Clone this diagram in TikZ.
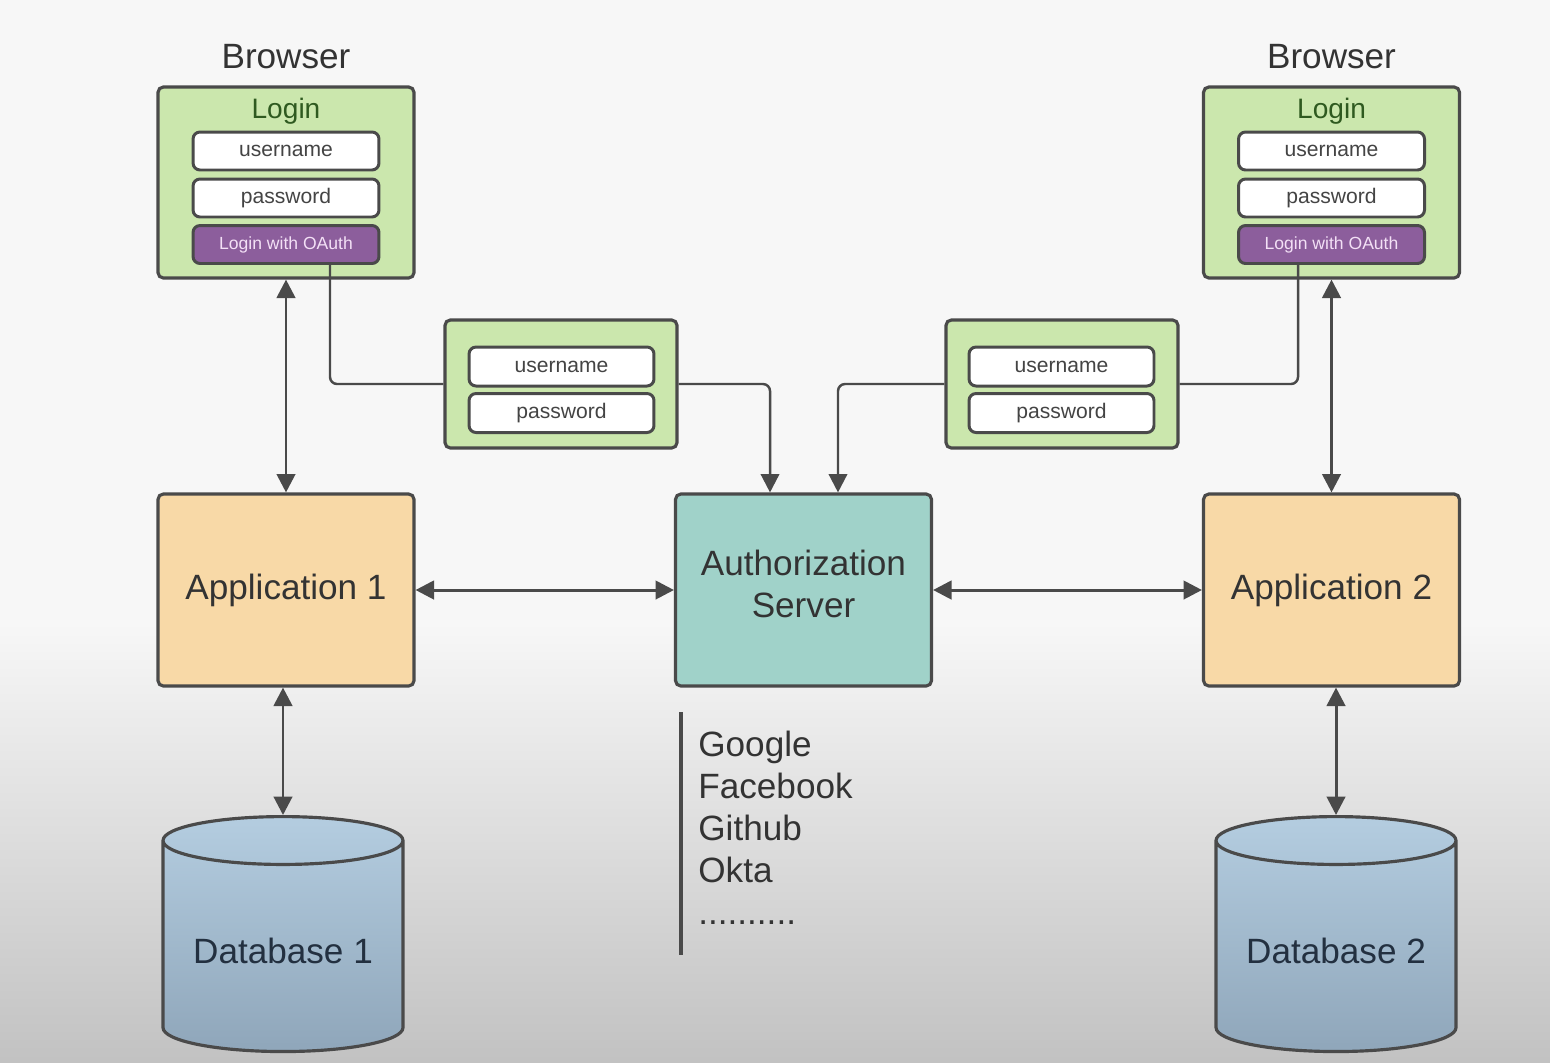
\documentclass[tikz,border=0pt]{standalone}
\usepackage{fontspec}
\setmainfont{Liberation Sans}
\usetikzlibrary{arrows.meta,shapes.geometric}

\definecolor{edge}{HTML}{4A4A4A}
\definecolor{loginbg}{HTML}{CBE7AD}
\definecolor{logintxt}{HTML}{2F5A20}
\definecolor{fieldtxt}{HTML}{444444}
\definecolor{oauth}{HTML}{8C5E9C}
\definecolor{oauthtxt}{HTML}{F3E0F6}
\definecolor{appbg}{HTML}{F8D9A7}
\definecolor{authbg}{HTML}{A0D2C9}
\definecolor{dbtop}{HTML}{B4CDE0}
\definecolor{dbbottom}{HTML}{8FA6BA}
\definecolor{textdark}{HTML}{333333}
\definecolor{dbtxt}{HTML}{233040}

\newcommand{\moredots}{..........}

\tikzset{
  panel/.style={draw=edge, line width=1.8pt, rounded corners=3pt, fill=loginbg},
  field/.style={draw=edge, line width=1.7pt, rounded corners=4pt, fill=white,
    minimum width=3.72cm, minimum height=0.76cm, inner sep=0pt,
    font=\fontsize{12}{14}\selectfont, text=fieldtxt},
  oauthbtn/.style={field, fill=oauth, text=oauthtxt, font=\fontsize{10}{12}\selectfont},
  bigbox/.style={draw=edge, line width=1.8pt, rounded corners=3pt,
    minimum width=5.12cm, minimum height=3.84cm, align=center,
    font=\fontsize{20}{24}\selectfont, text=textdark},
  dbnode/.style={cylinder, shape border rotate=90, aspect=0.25, draw=edge,
    line width=1.8pt, top color=dbtop, bottom color=dbbottom,
    minimum width=4.8cm, minimum height=4.7cm, anchor=north,
    font=\fontsize{20}{24}\selectfont, text=dbtxt},
  link/.style={draw=edge, line width=1.7pt,
    {Triangle[length=10.5pt,width=10.5pt]}-{Triangle[length=10.5pt,width=10.5pt]}},
  route/.style={draw=edge, line width=1.4pt, rounded corners=4pt},
  listitem/.style={anchor=base west, inner sep=0pt,
    font=\fontsize{20}{24}\selectfont, text=textdark}
}

\begin{document}
\begin{tikzpicture}[x=0.02cm, y=-0.02cm]
    % background of the frame
    \useasboundingbox (0,0) rectangle (1550,1062);
    \fill[white!97!black] (0,0) rectangle (1550,620);
    \shade[top color=white!97!black, bottom color=white!76!black] (0,620) rectangle (1550,1062);

    % browsers with their login forms
    \node[font=\fontsize{20}{24}\selectfont, text=textdark] (browser1) at (286,57) {Browser};
    \node[font=\fontsize{20}{24}\selectfont, text=textdark] (browser2) at (1331.5,57) {Browser};

    \node[panel, minimum width=5.12cm, minimum height=3.82cm] (login1) at (286,182.5) {};
    \node[font=\fontsize{16}{18}\selectfont, text=logintxt] (title1) at (286,111) {Login};
    \node[field] (user1) at (286,151) {username};
    \node[field] (pass1) at (286,198) {password};
    \node[oauthbtn] (oauth1) at (286,244.5) {Login with OAuth};

    \node[panel, minimum width=5.12cm, minimum height=3.82cm] (login2) at (1331.5,182.5) {};
    \node[font=\fontsize{16}{18}\selectfont, text=logintxt] (title2) at (1331.5,111) {Login};
    \node[field] (user2) at (1331.5,151) {username};
    \node[field] (pass2) at (1331.5,198) {password};
    \node[oauthbtn] (oauth2) at (1331.5,244.5) {Login with OAuth};

    % credentials sent to the authorization server
    \node[panel, minimum width=4.64cm, minimum height=2.56cm] (cred1) at (561,384) {};
    \node[field, minimum width=3.7cm, minimum height=0.78cm] (cuser1) at (561.5,366.5) {username};
    \node[field, minimum width=3.7cm, minimum height=0.78cm] (cpass1) at (561.5,413) {password};

    \node[panel, minimum width=4.64cm, minimum height=2.56cm] (cred2) at (1062,384) {};
    \node[field, minimum width=3.7cm, minimum height=0.78cm] (cuser2) at (1061.5,366.5) {username};
    \node[field, minimum width=3.7cm, minimum height=0.78cm] (cpass2) at (1061.5,413) {password};

    % applications and the server
    \node[bigbox, fill=appbg] (app1) at (286,590) {Application 1};
    \node[bigbox, fill=authbg] (auth) at (803.5,590) {Authorization\\Server\\[-0.6cm]};
    \node[bigbox, fill=appbg] (app2) at (1331.5,590) {Application 2};

    % databases
    \node[dbnode] (db1) at (283,815) {Database 1};
    \node[dbnode] (db2) at (1336,815) {Database 2};

    % identity providers
    \foreach \idp [count=\i] in {Google,Facebook,Github,Okta,\moredots}
        \node[listitem] (idp\i) at (698,714+42*\i) {\idp};
    \draw[edge, line width=2.2pt] (681,712) -- (681,955);

    % two way links
    \draw[link] (login1.south) -- (app1.north);
    \draw[link] (login2.south) -- (app2.north);
    \draw[link] (app1.east) -- (auth.west);
    \draw[link] (auth.east) -- (app2.west);
    \draw[link] (app1.south -| db1.north) -- (db1.north);
    \draw[link] (app2.south -| db2.north) -- (db2.north);

    % oauth routes
    \draw[route] ([xshift=0.88cm]oauth1.south) |- (cred1.west);
    \draw[route, -{Triangle[length=10.5pt,width=10.5pt]}] (cred1.east) -| ([xshift=-0.67cm]auth.north);
    \draw[route] ([xshift=-0.67cm]oauth2.south) |- (cred2.east);
    \draw[route, -{Triangle[length=10.5pt,width=10.5pt]}] (cred2.west) -| ([xshift=0.69cm]auth.north);
\end{tikzpicture}
\end{document}
